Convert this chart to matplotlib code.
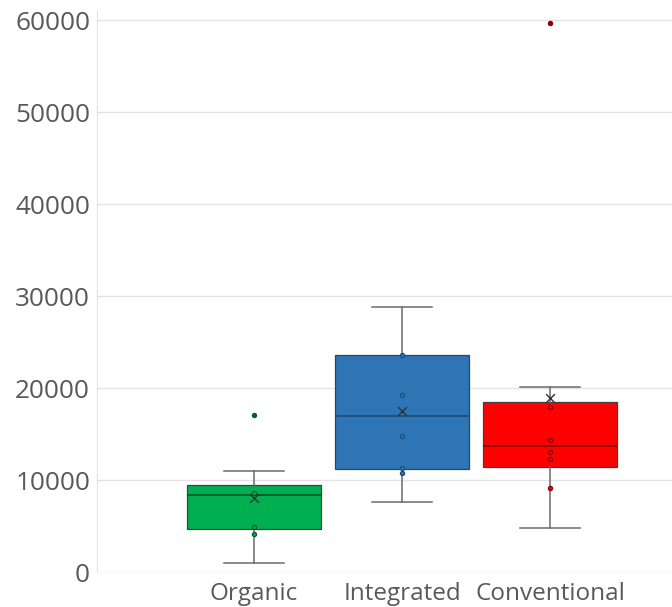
import numpy as np
import matplotlib
matplotlib.use("Agg")
import matplotlib.pyplot as plt

plt.rcParams['font.family'] = ['Open Sans', 'DejaVu Sans']

categories = ["Organic", "Integrated", "Conventional"]
q1 = [4670, 11160, 11450]
median = [8370, 16990, 13730]
q3 = [9450, 23550, 18440]
whis_lo = [980, 7640, 4820]
whis_hi = [10980, 28840, 20070]
means = [8040, 17460, 18880]
outliers = [[17070], [], [59640]]
inner_points = [
    [8590, 4890, 4130],
    [23550, 19200, 14780, 11300, 10760],
    [17900, 14350, 13080, 12250, 9160],
]
yticks = [0, 10000, 20000, 30000, 40000, 50000, 60000]

fills = ["#00b050", "#2e75b6", "#ff0000"]
edges = ["#0a5a30", "#1f4e79", "#8b0000"]

fig = plt.figure(figsize=(6.72, 6.07), dpi=100)
ax = fig.add_axes([97/672, 35/607, 1 - 97/672, (597 - 35)/607])

pos = np.arange(1, len(categories) + 1)
stats = []
for i in range(len(categories)):
    stats.append(dict(q1=q1[i], med=median[i], q3=q3[i], whislo=whis_lo[i],
                      whishi=whis_hi[i], mean=means[i], fliers=[]))

bp = ax.bxp(stats, positions=pos, widths=0.91, patch_artist=True,
            showmeans=False, showfliers=False,
            whiskerprops=dict(color="#6b6b6b", lw=1.1),
            capprops=dict(color="#6b6b6b", lw=1.1),
            medianprops=dict(lw=1.3), zorder=2)
for i, b in enumerate(bp['boxes']):
    b.set_facecolor(fills[i])
    b.set_edgecolor("#404040")
    b.set_linewidth(0.9)
    bp['medians'][i].set_color(edges[i])
for c in bp['caps']:
    c.set_xdata(np.mean(c.get_xdata()) + np.array([-0.2, 0.2]))

for i in range(len(categories)):
    pts = inner_points[i]
    ax.scatter([pos[i]] * len(pts), pts, s=9, facecolor=fills[i],
               edgecolor=edges[i], lw=0.9, zorder=4)
    if outliers[i]:
        ax.scatter([pos[i]] * len(outliers[i]), outliers[i], s=9,
                   facecolor=edges[i], edgecolor=edges[i], lw=0.9, zorder=4)
    ax.scatter([pos[i]], [means[i]], marker="x", s=40, color="#333333",
               lw=1.0, zorder=5)

ax.set_xlim(1 - 157/148, 3 + 122/148)
ax.set_ylim(0, 61090)
ax.set_yticks(yticks)
ax.set_yticklabels([str(t) for t in yticks])
ax.set_xticks(pos)
ax.set_xticklabels(categories)
ax.yaxis.grid(True, color="#e3e3e3", lw=1.0)
ax.set_axisbelow(True)
ax.tick_params(axis='y', length=0, labelsize=18.8, labelcolor="#595959", pad=5)
ax.tick_params(axis='x', length=0, labelsize=17.5, labelcolor="#595959", pad=7.5)
for s in ["top", "right", "bottom"]:
    ax.spines[s].set_visible(False)
ax.spines["left"].set_color("#e3e3e3")

fig.savefig("out.png", dpi=100)
